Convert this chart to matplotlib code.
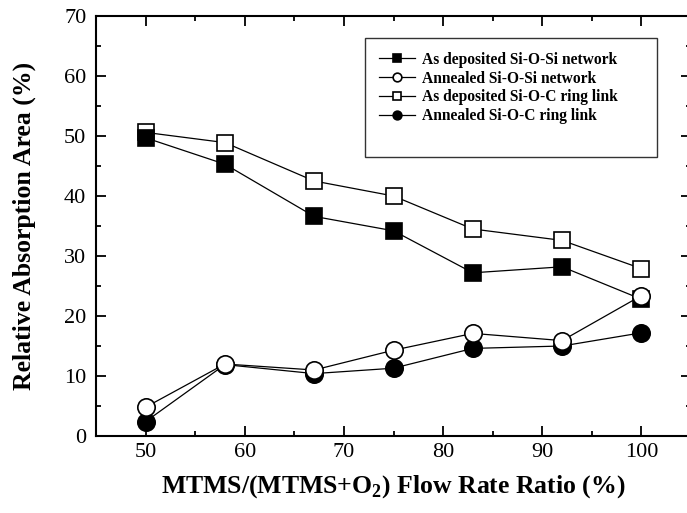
import matplotlib
matplotlib.use("Agg")
import matplotlib.pyplot as plt
from matplotlib.patches import Rectangle
from matplotlib.ticker import MultipleLocator

x = [50, 58, 67, 75, 83, 92, 100]
asdep_siosi = [49.7, 45.3, 36.6, 34.2, 27.2, 28.2, 22.8]
ann_siosi = [4.8, 12.0, 11.0, 14.3, 17.1, 15.9, 23.4]
asdep_sioc = [50.6, 48.9, 42.5, 40.0, 34.5, 32.6, 27.9]
ann_sioc = [2.4, 11.9, 10.4, 11.3, 14.6, 15.0, 17.2]

labels = ["As deposited Si-O-Si network", "Annealed Si-O-Si network",
          "As deposited Si-O-C ring link", "Annealed Si-O-C ring link"]

plt.rcParams['font.family'] = ['Liberation Serif', 'DejaVu Serif']
plt.rcParams['mathtext.fontset'] = 'custom'
plt.rcParams['mathtext.rm'] = 'Liberation Serif:bold'
plt.rcParams['mathtext.bf'] = 'Liberation Serif:bold'

fig = plt.figure(figsize=(6.87, 5.13), dpi=100)
ax = fig.add_axes([96/687, 77/513, 595/687, 420/513])

ms = 12
lw = 0.9
h3, = ax.plot(x, asdep_sioc, '-', color='black', lw=lw, marker='s', ms=ms,
              mfc='white', mec='black', mew=1.2, zorder=2, label=labels[2])
h1, = ax.plot(x, asdep_siosi, '-', color='black', lw=lw, marker='s', ms=ms,
              mfc='black', mec='black', mew=1.2, zorder=3, label=labels[0])
h4, = ax.plot(x, ann_sioc, '-', color='black', lw=lw, marker='o', ms=ms+0.5,
              mfc='black', mec='black', mew=1.2, zorder=4, label=labels[3])
h2, = ax.plot(x, ann_siosi, '-', color='black', lw=lw, marker='o', ms=ms+0.5,
              mfc='white', mec='black', mew=1.2, zorder=5, label=labels[1])

ax.set_xlim(45, 105)
ax.set_ylim(0, 70)
ax.xaxis.set_major_locator(MultipleLocator(10))
ax.xaxis.set_minor_locator(MultipleLocator(5))
ax.yaxis.set_major_locator(MultipleLocator(10))
ax.yaxis.set_minor_locator(MultipleLocator(5))
ax.tick_params(which='both', direction='in', top=True, right=True, width=1.3)
ax.tick_params(which='major', length=7, labelsize=16)
ax.tick_params(axis='y', which='major', pad=7)
ax.tick_params(axis='x', which='major', pad=5)
ax.tick_params(which='minor', length=3.5)
ax.set_xticks([50, 60, 70, 80, 90, 100])
for s in ax.spines.values():
    s.set_linewidth(1.5)

ax.set_xlabel(r"MTMS/(MTMS+O$_2$) Flow Rate Ratio (%)", fontsize=18.5,
              fontweight='bold', labelpad=8)
ax.set_ylabel("Relative Absorption Area (%)", fontsize=18.5, fontweight='bold',
              labelpad=20)

leg = ax.legend([h1, h2, h3, h4], labels, loc='upper left',
                bbox_to_anchor=(368/687, 1 - 41/513), bbox_transform=fig.transFigure,
                frameon=False, markerscale=0.5, handlelength=2.3, handletextpad=0.5,
                labelspacing=0.18, prop={'family': 'Liberation Serif', 'weight': 'bold', 'size': 11.2},
                borderpad=0.2)
fig.patches.append(Rectangle((365/687, 1 - 157/513), (657-365)/687, (157-38)/513,
                             transform=fig.transFigure, fill=False, ec='#333333', lw=1.0))

fig.savefig("out.png", dpi=100)
